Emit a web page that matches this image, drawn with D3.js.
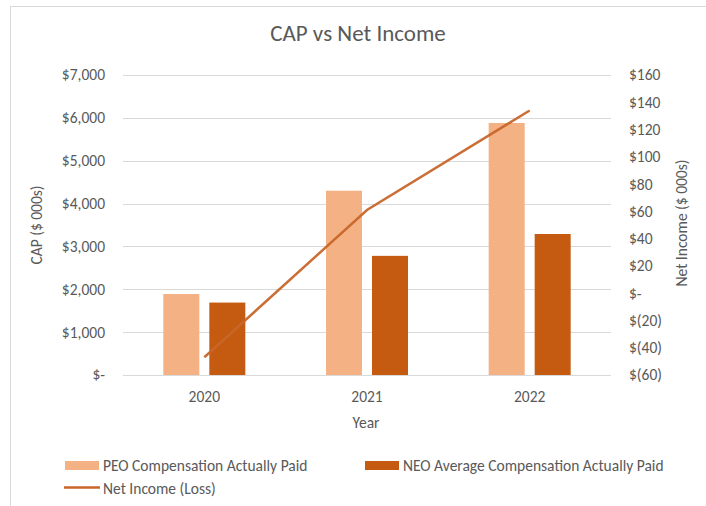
<!DOCTYPE html>
<html><head><meta charset="utf-8">
<script src="https://cdn.jsdelivr.net/npm/d3@7"></script>
<style>body{margin:0;background:#fff}svg{display:block}text{font-family:Carlito,Lato,"Open Sans",sans-serif}</style>
</head><body><svg id="c" width="706" height="506"></svg>
<script>
const years = ["2020","2021","2022"];
const peoCAP = [1890, 4300, 5880];
const neoCAP = [1690, 2780, 3290];
const netIncome = [-47, 61, 134];
const leftTicks = [0,1000,2000,3000,4000,5000,6000,7000];
const rightTicks = [-60,-40,-20,0,20,40,60,80,100,120,140,160];

const svg = d3.select("#c");
const m = {l:123, r:611, t:75, b:375};
svg.append("rect").attr("x",10.5).attr("y",6.5).attr("width",720).attr("height",520)
  .attr("fill","#fff").attr("stroke","#d9d9d9");

const x = d3.scaleBand().domain(years).range([m.l,m.r]);
const yL = d3.scaleLinear().domain([0,7000]).range([m.b,m.t]);
const yR = d3.scaleLinear().domain([-60,160]).range([m.b,m.t]);

const fmtL = v => v===0 ? "$-" : "$" + d3.format(",")(v);
const fmtR = v => v===0 ? "$-" : (v<0 ? "$(" + (-v) + ")" : "$" + v);
const fs = 15.5;

// gridlines
svg.append("g").selectAll("line").data(leftTicks).join("line")
  .attr("x1",m.l).attr("x2",m.r).attr("y1",d=>Math.round(yL(d))+0.5).attr("y2",d=>Math.round(yL(d))+0.5)
  .attr("stroke","#d9d9d9").attr("stroke-width",1);

const txt = "#595959";
// left axis
const ga = svg.append("g").attr("transform",`translate(${m.l-15},0)`)
  .call(d3.axisLeft(yL).tickValues(leftTicks).tickFormat(fmtL).tickSize(0));
ga.select(".domain").remove();
ga.selectAll("text").attr("fill",txt).attr("font-size",fs).attr("font-family","Carlito,Lato,sans-serif");
// right axis
const gr = svg.append("g").attr("transform",`translate(${m.r+15},0)`)
  .call(d3.axisRight(yR).tickValues(rightTicks).tickFormat(fmtR).tickSize(0));
gr.select(".domain").remove();
gr.selectAll("text").attr("fill",txt).attr("font-size",fs).attr("font-family","Carlito,Lato,sans-serif").attr("text-anchor","start");
// x axis
const gx = svg.append("g").attr("transform",`translate(0,${m.b+13})`)
  .call(d3.axisBottom(x).tickSize(0));
gx.select(".domain").remove();
gx.selectAll("text").attr("fill",txt).attr("font-size",fs).attr("font-family","Carlito,Lato,sans-serif");

// bars
const bw = 36, gap = 10;
svg.append("g").selectAll("rect").data(years).join("rect")
  .attr("x",(d)=>x(d)+x.bandwidth()/2-gap/2-bw).attr("width",bw)
  .attr("y",(d,i)=>yL(peoCAP[i])).attr("height",(d,i)=>yL(0)-yL(peoCAP[i]))
  .attr("fill","#F4B183");
svg.append("g").selectAll("rect").data(years).join("rect")
  .attr("x",(d)=>x(d)+x.bandwidth()/2+gap/2).attr("width",bw)
  .attr("y",(d,i)=>yL(neoCAP[i])).attr("height",(d,i)=>yL(0)-yL(neoCAP[i]))
  .attr("fill","#C55A11");

// line
const line = d3.line().x((d,i)=>x(years[i])+x.bandwidth()/2).y(d=>yR(d));
svg.append("path").datum(netIncome).attr("d",line).attr("fill","none")
  .attr("stroke","#C8662A").attr("stroke-width",2.5).attr("stroke-opacity",0.95);

// title
svg.append("text").attr("x",358).attr("y",41).attr("text-anchor","middle")
  .attr("fill",txt).attr("font-size",23).text("CAP vs Net Income");
// axis titles
svg.append("text").attr("transform","translate(42,225) rotate(-90)").attr("text-anchor","middle")
  .attr("fill",txt).attr("font-size",fs).text("CAP ($ 000s)");
svg.append("text").attr("transform","translate(687,223) rotate(-90)").attr("text-anchor","middle")
  .attr("fill",txt).attr("font-size",fs).text("Net Income ($ 000s)");
svg.append("text").attr("x",366).attr("y",428).attr("text-anchor","middle")
  .attr("fill",txt).attr("font-size",fs).text("Year");

// legend
const lg = svg.append("g");
lg.append("rect").attr("x",65).attr("y",461).attr("width",34).attr("height",9).attr("fill","#F4B183");
lg.append("text").attr("x",103).attr("y",470.5).attr("fill",txt).attr("font-size",fs).text("PEO Compensation Actually Paid");
lg.append("rect").attr("x",365).attr("y",461).attr("width",34).attr("height",9).attr("fill","#C55A11");
lg.append("text").attr("x",403).attr("y",470.5).attr("fill",txt).attr("font-size",fs).text("NEO Average Compensation Actually Paid");
lg.append("line").attr("x1",64).attr("x2",100).attr("y1",487.5).attr("y2",487.5).attr("stroke","#C8662A").attr("stroke-width",2.5);
lg.append("text").attr("x",103).attr("y",493.5).attr("fill",txt).attr("font-size",fs).text("Net Income (Loss)");
</script></body></html>
